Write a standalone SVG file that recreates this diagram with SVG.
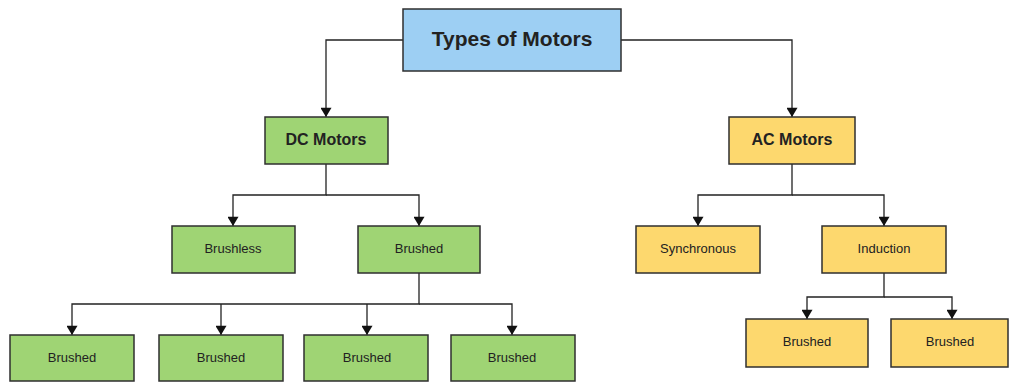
<svg xmlns="http://www.w3.org/2000/svg" width="1009" height="383" viewBox="0 0 1009 383">
<style>
.box{stroke:#2f2f2f;stroke-width:1.5}
.blue{fill:#9dcff3}
.green{fill:#9fd474}
.yellow{fill:#fdd86e}
.t{font-family:"Liberation Sans",Arial,sans-serif;fill:#222;text-anchor:middle;dominant-baseline:central}
.title{font-size:21px;font-weight:bold}
.sub{font-size:16px;font-weight:bold}
.leaf{font-size:13px}
.c{fill:none;stroke:#222;stroke-width:1.3}
</style>
<defs>
<marker id="arr" viewBox="0 0 10 12" refX="10" refY="6" markerWidth="12" markerHeight="11" markerUnits="userSpaceOnUse" orient="auto">
<path d="M0,0 L10,6 L0,12 z" fill="#111"/>
</marker>
</defs>
<rect width="1009" height="383" fill="#fff"/>
<g id="connectors">
<path class="c" d="M403,40 H326 V117" marker-end="url(#arr)"/>
<path class="c" d="M621,40 H792 V117" marker-end="url(#arr)"/>
<path class="c" d="M326,164 V195 H233 V226" marker-end="url(#arr)"/>
<path class="c" d="M326,195 H419 V226" marker-end="url(#arr)"/>
<path class="c" d="M792,164 V195 H698 V226" marker-end="url(#arr)"/>
<path class="c" d="M792,195 H884 V226" marker-end="url(#arr)"/>
<path class="c" d="M419,273 V304 H72 V335" marker-end="url(#arr)"/>
<path class="c" d="M221,304 V335" marker-end="url(#arr)"/>
<path class="c" d="M367,304 V335" marker-end="url(#arr)"/>
<path class="c" d="M419,304 H512 V335" marker-end="url(#arr)"/>
<path class="c" d="M884,273 V297 H807 V319" marker-end="url(#arr)"/>
<path class="c" d="M884,297 H952 V319" marker-end="url(#arr)"/>
</g>
<g id="types"><rect class="box blue" x="403" y="9" width="218" height="62"/><text class="t title" x="512" y="38">Types of Motors</text></g>
<g id="dc"><rect class="box green" x="265" y="117" width="123" height="47"/><text class="t sub" x="326" y="139">DC Motors</text></g>
<g id="ac"><rect class="box yellow" x="729" y="117" width="126" height="47"/><text class="t sub" x="792" y="139">AC Motors</text></g>
<g id="brushless"><rect class="box green" x="172" y="226" width="123" height="47"/><text class="t leaf" x="233" y="248">Brushless</text></g>
<g id="brushed"><rect class="box green" x="358" y="226" width="122" height="47"/><text class="t leaf" x="419" y="248">Brushed</text></g>
<g id="synchronous"><rect class="box yellow" x="636" y="226" width="124" height="47"/><text class="t leaf" x="698" y="248">Synchronous</text></g>
<g id="induction"><rect class="box yellow" x="822" y="226" width="124" height="47"/><text class="t leaf" x="884" y="248">Induction</text></g>
<g id="b1"><rect class="box green" x="10" y="335" width="124" height="46"/><text class="t leaf" x="72" y="357">Brushed</text></g>
<g id="b2"><rect class="box green" x="159" y="335" width="124" height="46"/><text class="t leaf" x="221" y="357">Brushed</text></g>
<g id="b3"><rect class="box green" x="304" y="335" width="124" height="46"/><text class="t leaf" x="367" y="357">Brushed</text></g>
<g id="b4"><rect class="box green" x="451" y="335" width="124" height="46"/><text class="t leaf" x="512" y="357">Brushed</text></g>
<g id="b5"><rect class="box yellow" x="746" y="319" width="122" height="48"/><text class="t leaf" x="807" y="341">Brushed</text></g>
<g id="b6"><rect class="box yellow" x="891" y="319" width="117" height="48"/><text class="t leaf" x="950" y="341">Brushed</text></g>
</svg>
